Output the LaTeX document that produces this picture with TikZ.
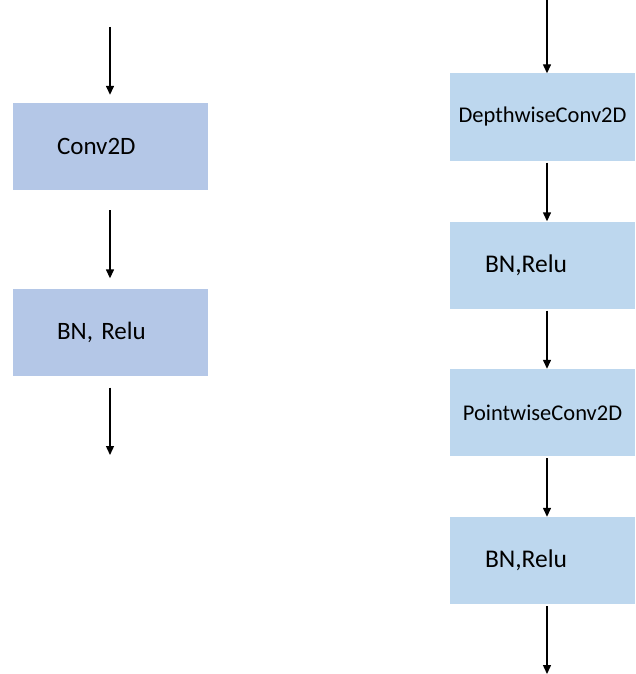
\documentclass[tikz,border=0pt]{standalone}
\usepackage{fontspec}
\setmainfont{Carlito}
\usetikzlibrary{arrows.meta}
\definecolor{convblue}{RGB}{180,199,231}
\definecolor{sepblue}{RGB}{189,215,238}

\begin{document}
\begin{tikzpicture}[x=1pt, y=1pt,
  layer/.style={minimum height=87pt, inner ysep=0pt},
  plainlayer/.style={layer, fill=convblue, text width=107pt, inner xsep=44pt, align=left, font=\fontsize{25}{30}\selectfont},
  seplayer/.style={layer, fill=sepblue, minimum width=185pt, inner xsep=0pt, font=\fontsize{22.5}{27}\selectfont},
  actlayer/.style={layer, fill=sepblue, text width=115pt, inner xsep=35pt, align=left, font=\fontsize{25.5}{30}\selectfont},
  flow/.style={-{Triangle[length=9pt,width=8pt]}, line width=1.4pt}]
\useasboundingbox (0,0) rectangle (635,-674);

% standard convolution
\node[plainlayer] (conv) at (110.5,-146.5) {Conv2D};
\node[plainlayer] (bnrelu) at (110.5,-332) {BN, Relu};
\coordinate (in1) at (110,-27);
\coordinate (out1) at (110,-455);
\draw[flow, shorten >=8pt] (in1) -- (conv.north -| in1);
\draw[flow, shorten <=20pt, shorten >=10pt] (conv.south -| in1) -- (bnrelu.north -| in1);
\draw[flow, shorten <=12pt] (bnrelu.south -| in1) -- (out1);

% depthwise separable convolution
\node[seplayer] (dw) at (542.5,-117) {DepthwiseConv2D};
\node[actlayer] (bnrelu2) at (542.5,-265) {BN,Relu};
\node[seplayer] (pw) at (542.5,-412.5) {PointwiseConv2D};
\node[actlayer] (bnrelu3) at (542.5,-560.5) {BN,Relu};
\coordinate (in2) at (547,0);
\coordinate (out2) at (547,-674);
\draw[flow] (in2) -- (dw.north -| in2);
\draw[flow, shorten <=2pt] (dw.south -| in2) -- (bnrelu2.north -| in2);
\draw[flow, shorten <=2pt] (bnrelu2.south -| in2) -- (pw.north -| in2);
\draw[flow, shorten <=2pt] (pw.south -| in2) -- (bnrelu3.north -| in2);
\draw[flow, shorten <=2pt] (bnrelu3.south -| in2) -- (out2);
\end{tikzpicture}
\end{document}
